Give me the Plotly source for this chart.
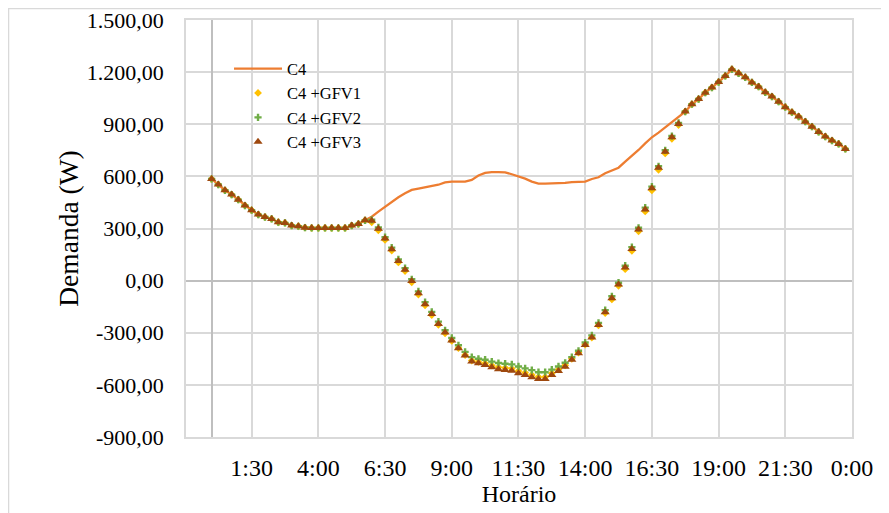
import plotly.graph_objects as go

# Horário: 96 intervalos de 15 min (0:00 ... 23:45), em horas
horas = [i * 0.25 for i in range(96)]

# Demanda C4 (W)
c4 = [585, 553, 520, 495, 466, 432, 405, 380, 366, 355, 336, 332,
      317, 313, 305, 303, 303, 303, 303, 303, 303, 317, 326, 347,
      368, 397, 426, 452, 480, 503, 522, 530, 537, 545, 552, 565,
      570, 570, 570, 580, 605, 620, 625, 625, 623, 612, 600, 587,
      570, 558, 558, 558, 558, 562, 567, 570, 570, 585, 595, 618,
      635, 650, 685, 718, 752, 790, 825, 852, 882, 915, 945, 973,
      1015, 1045, 1082, 1111, 1143, 1178, 1216, 1193, 1170, 1141, 1116, 1084,
      1059, 1030, 998, 969, 944, 915, 886, 856, 829, 806, 787, 758]

# C4 + GFV1 (W)
c4_gfv1 = [585, 553, 520, 495, 466, 432, 405, 380, 366, 355, 336, 332,
           317, 313, 305, 303, 303, 303, 303, 303, 303, 317, 326, 347,
           336, 290, 234, 173, 105, 55, -10, -80, -142, -198, -254, -303,
           -347, -388, -428, -460, -468, -476, -488, -498, -502, -506, -520, -530,
           -543, -554, -554, -533, -511, -487, -450, -414, -368, -328, -258, -187,
           -108, -30, 66, 172, 284, 398, 520, 638, 732, 816, 895, 973,
           1015, 1045, 1082, 1111, 1143, 1178, 1216, 1193, 1170, 1141, 1116, 1084,
           1059, 1030, 998, 969, 944, 915, 886, 856, 829, 806, 787, 758]

# C4 + GFV2 (W)
c4_gfv2 = [585, 553, 520, 495, 466, 432, 405, 380, 366, 355, 336, 332,
           317, 313, 305, 303, 303, 303, 303, 303, 303, 317, 326, 347,
           350, 306, 250, 190, 122, 72, 8, -62, -124, -180, -236, -286,
           -330, -372, -410, -440, -450, -455, -466, -474, -478, -482, -494, -505,
           -515, -527, -527, -512, -494, -473, -440, -404, -356, -315, -243, -170,
           -90, -12, 86, 193, 304, 420, 541, 658, 750, 832, 908, 973,
           1015, 1045, 1082, 1111, 1143, 1178, 1216, 1193, 1170, 1141, 1116, 1084,
           1059, 1030, 998, 969, 944, 915, 886, 856, 829, 806, 787, 758]

# C4 + GFV3 (W)
c4_gfv3 = [585, 553, 520, 495, 466, 432, 405, 380, 366, 355, 336, 332,
           317, 313, 305, 303, 303, 303, 303, 303, 303, 317, 326, 347,
           344, 298, 242, 181, 113, 62, -2, -73, -136, -192, -249, -299,
           -345, -389, -431, -466, -475, -485, -498, -510, -514, -518, -533, -543,
           -556, -566, -566, -543, -520, -495, -456, -418, -370, -328, -255, -182,
           -102, -23, 75, 182, 294, 410, 532, 650, 742, 825, 902, 973,
           1015, 1045, 1082, 1111, 1143, 1178, 1216, 1193, 1170, 1141, 1116, 1084,
           1059, 1030, 998, 969, 944, 915, 886, 856, 829, 806, 787, 758]

x_ticks = [1.5, 4, 6.5, 9, 11.5, 14, 16.5, 19, 21.5, 24]
x_labels = ["1:30", "4:00", "6:30", "9:00", "11:30", "14:00", "16:30", "19:00", "21:30", "0:00"]
y_ticks = [-900, -600, -300, 0, 300, 600, 900, 1200, 1500]
y_labels = ["-900,00", "-600,00", "-300,00", "0,00", "300,00", "600,00", "900,00", "1.200,00", "1.500,00"]

font = "Liberation Serif, Times New Roman, serif"
grid = "#D9D9D9"

fig = go.Figure()
fig.add_trace(go.Scatter(x=horas, y=c4, name="C4", mode="lines",
                         line=dict(color="#ED7D31", width=2.25)))
fig.add_trace(go.Scatter(x=horas, y=c4_gfv1, name="C4 +GFV1", mode="markers",
                         marker=dict(symbol="diamond", size=6, color="#FFC000")))
fig.add_trace(go.Scatter(x=horas, y=c4_gfv2, name="C4 +GFV2", mode="markers",
                         marker=dict(symbol="cross", size=6, color="#70AD47")))
fig.add_trace(go.Scatter(x=horas, y=c4_gfv3, name="C4 +GFV3", mode="markers",
                         marker=dict(symbol="triangle-up", size=8, color="#9E480E")))

fig.update_layout(
    width=889, height=513,
    margin=dict(l=178, r=45, t=12, b=84),
    paper_bgcolor="white", plot_bgcolor="white",
    font=dict(family=font, color="#000000"),
    showlegend=True,
    legend=dict(x=0.0646, y=0.925, xanchor="left", yanchor="top",
                bgcolor="rgba(0,0,0,0)", font=dict(size=16.5), itemwidth=48,
                tracegroupgap=0),
    xaxis=dict(range=[-0.96, 24], tickvals=x_ticks, ticktext=x_labels,
               tickfont=dict(size=24), showgrid=True, gridcolor=grid, gridwidth=1.5,
               zeroline=True, zerolinecolor="#BFBFBF", zerolinewidth=1.5,
               showline=True, linecolor=grid, linewidth=1.5, mirror=True,
               ticks="", ticklabelstandoff=8, automargin=False,
               ticklabeloverflow="allow",
               title=dict(text="Horário", font=dict(size=24), standoff=0)),
    yaxis=dict(range=[-900, 1500], tickvals=y_ticks, ticktext=y_labels,
               tickfont=dict(size=22), showgrid=True, gridcolor=grid, gridwidth=1.5,
               zeroline=True, zerolinecolor="#BFBFBF", zerolinewidth=1.5,
               showline=True, linecolor=grid, linewidth=1.5, mirror=True,
               ticks="", ticklabelstandoff=16, automargin=False,
               ticklabeloverflow="allow",
               title=dict(text="Demanda (W)", font=dict(size=27.5), standoff=0)),
    shapes=[dict(type="rect", xref="paper", yref="paper",
                 x0=-0.2665, x1=1.2, y0=-0.3, y1=1.0276,
                 line=dict(color="#D9D9D9", width=1.5), fillcolor="rgba(0,0,0,0)",
                 layer="below")],
)

fig.write_html("out.html")
